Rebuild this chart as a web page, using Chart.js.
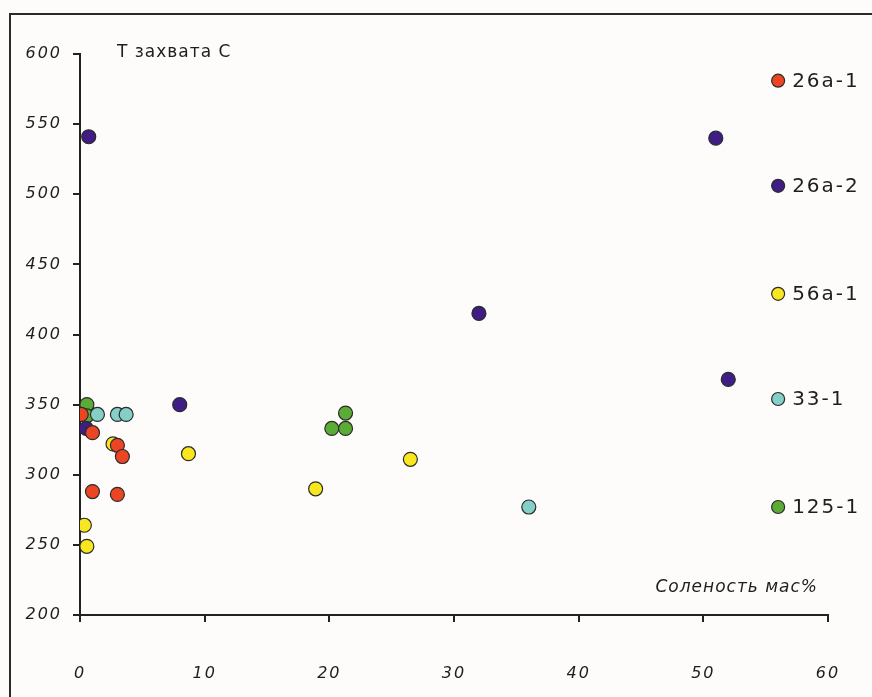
<!DOCTYPE html>
<html>
<head>
<meta charset="utf-8">
<script src="https://cdn.jsdelivr.net/npm/chart.js@4"></script>
<style>
  html, body { margin: 0; padding: 0; background: #fdfcfb; }
  #wrap { position: absolute; left: 0; top: 0; width: 872px; height: 697px; }
  #frame { position: absolute; left: 9px; top: 13px; width: 900px; height: 720px;
           border-left: 2px solid #2a2a2a; border-top: 2px solid #2a2a2a; }
</style>
</head>
<body>
<div id="wrap">
  <div id="frame"></div>
  <canvas id="chart" width="872" height="697"></canvas>
</div>
<script>
// series names and colours
var seriesNames = ['26a-1', '26a-2', '56a-1', '33-1', '125-1'];
var seriesColors = ['#ec4523', '#3f1d84', '#f8e71f', '#84cfc6', '#5aac36'];

// salinity (x) and trapping temperature (y) for each sample
var x26a1 = [0.1, 1.0, 3.0, 3.4, 1.0, 3.0];
var y26a1 = [343, 330, 321, 313, 288, 286];

var x26a2 = [0.7, 0.5, 8.0, 32.0, 51.0, 52.0];
var y26a2 = [541, 333, 350, 415, 540, 368];

var x56a1 = [2.65, 8.7, 0.35, 0.55, 18.9, 26.5];
var y56a1 = [322, 315, 264, 249, 290, 311];

var x331 = [1.4, 3.0, 3.7, 36.0];
var y331 = [343, 343, 343, 277];

var x1251 = [0.55, 0.55, 20.2, 21.3, 21.3];
var y1251 = [350, 342, 333, 333, 344];

// legend markers sit inside the plot
var legendX = 56;
var legendY = [581, 506, 429, 354, 277];

var xTicks = [0, 10, 20, 30, 40, 50, 60];
var yTicks = [200, 250, 300, 350, 400, 450, 500, 550, 600];

var yTitle = 'Т захвата С';
var xTitle = 'Соленость мас%';

function pts(xs, ys) {
    return xs.map(function (v, i) { return { x: v, y: ys[i] }; });
}

var allX = [x26a1, x26a2, x56a1, x331, x1251];
var allY = [y26a1, y26a2, y56a1, y331, y1251];

var datasets = seriesNames.map(function (name, i) {
    return {
        label: name,
        data: pts(allX[i], allY[i]),
        backgroundColor: seriesColors[i],
        borderColor: '#2b2b2b',
        borderWidth: 1.2,
        pointRadius: 7
    };
});

datasets.push({
    label: 'legend',
    data: legendY.map(function (v) { return { x: legendX, y: v }; }),
    backgroundColor: seriesColors,
    borderColor: '#2b2b2b',
    borderWidth: 1.2,
    pointRadius: 6.5
});

var tickFont = { family: 'DejaVu Sans', size: 16, style: 'italic' };

var spacingPlugin = {
    id: 'spacing',
    beforeDraw: function (chart) { chart.ctx.letterSpacing = '2px'; }
};

var labelsPlugin = {
    id: 'labels',
    afterDatasetsDraw: function (chart) {
        var c = chart.ctx;
        var xs = chart.scales.x, ys = chart.scales.y;
        c.save();
        c.fillStyle = '#1e1e1e';
        c.textBaseline = 'middle';
        c.letterSpacing = '2px';
        c.font = '20px "DejaVu Sans"';
        c.textAlign = 'left';
        seriesNames.forEach(function (name, i) {
            c.fillText(name, xs.getPixelForValue(legendX) + 14, ys.getPixelForValue(legendY[i]) + 1);
        });
        c.letterSpacing = '1px';
        c.font = '17px "DejaVu Sans"';
        c.fillText(yTitle, xs.getPixelForValue(0) + 37, ys.getPixelForValue(600) - 1);
        c.font = 'italic 17px "DejaVu Sans"';
        c.textAlign = 'right';
        c.fillText(xTitle, xs.getPixelForValue(60) - 10, ys.getPixelForValue(200) - 27);
        c.restore();
    }
};

var ctx = document.getElementById('chart').getContext('2d');

var chart = new Chart(ctx, {
    type: 'scatter',
    data: { datasets: datasets },
    options: {
        responsive: false,
        animation: false,
        layout: { autoPadding: false, padding: { left: 0, right: 44, top: 54, bottom: 0 } },
        plugins: {
            legend: { display: false },
            tooltip: { enabled: false }
        },
        scales: {
            x: {
                min: 0,
                max: 60,
                afterBuildTicks: function (s) { s.ticks = xTicks.map(function (v) { return { value: v }; }); },
                afterFit: function (s) { s.height = 82; s.paddingRight = 0; },
                border: { color: '#222', width: 2 },
                grid: { drawOnChartArea: false, color: '#222', lineWidth: 2, tickLength: 7 },
                ticks: { color: '#1e1e1e', font: tickFont, padding: 42, maxRotation: 0 }
            },
            y: {
                min: 200,
                max: 600,
                afterBuildTicks: function (s) { s.ticks = yTicks.map(function (v) { return { value: v }; }); },
                afterFit: function (s) { s.width = 80; s.paddingTop = 0; s.paddingBottom = 0; },
                border: { color: '#222', width: 2 },
                grid: { drawOnChartArea: false, color: '#222', lineWidth: 2, tickLength: 7 },
                ticks: { color: '#1e1e1e', font: tickFont, padding: 11 }
            }
        }
    },
    plugins: [spacingPlugin, labelsPlugin]
});
</script>
</body>
</html>
